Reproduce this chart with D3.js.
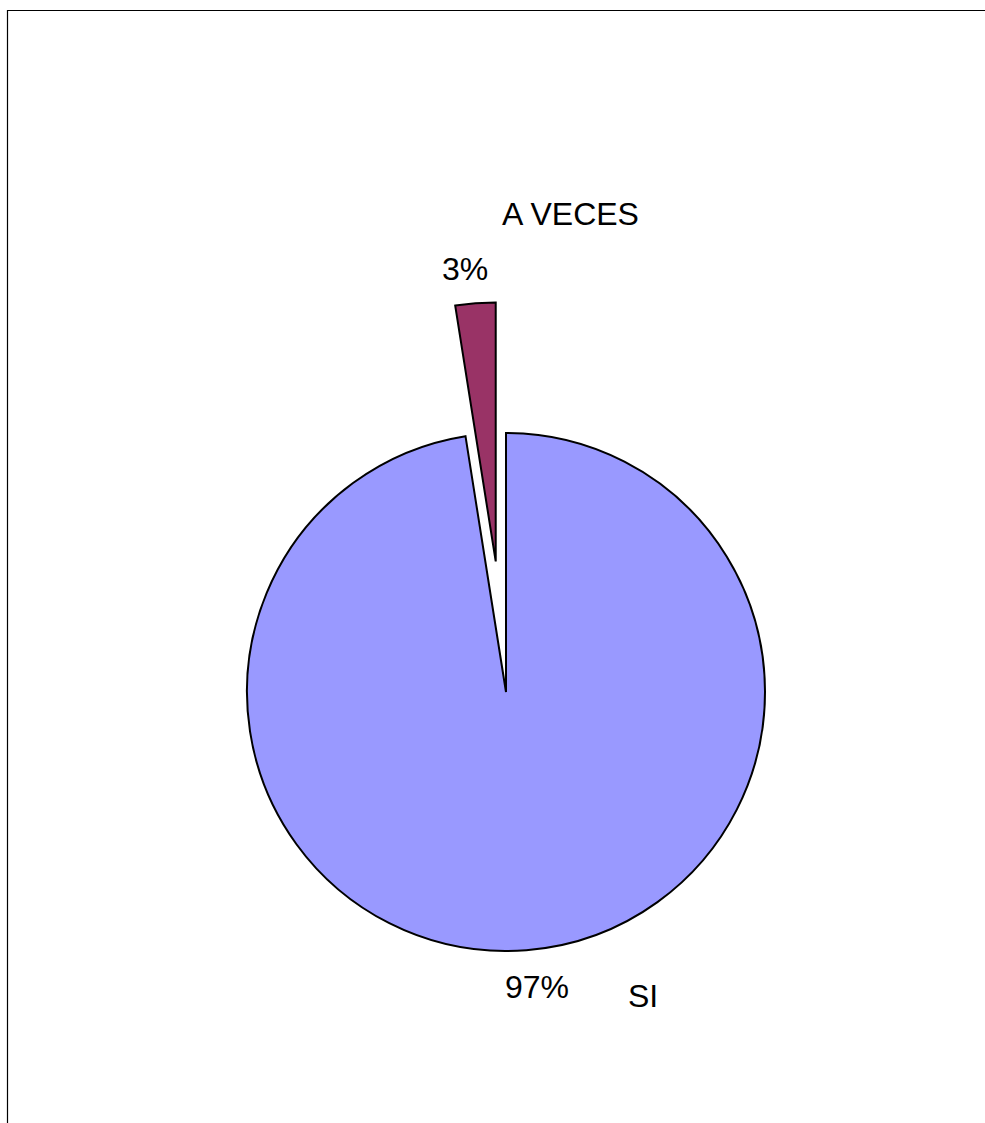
<!DOCTYPE html>
<html><head><meta charset="utf-8">
<script src="https://cdn.jsdelivr.net/npm/d3@7"></script>
<style>body{margin:0;background:#fff}svg{display:block}text{font-family:"Liberation Sans",Arial,sans-serif;font-size:32px;fill:#000}</style>
</head><body>
<script>
const categories = ["SI", "A VECES"];
const values = [97.5, 2.5];
const percentLabels = ["97%", "3%"];
const colors = ["#9999FF", "#993366"];

const W = 985, H = 1123;
const svg = d3.select("body").append("svg").attr("width", W).attr("height", H);
svg.append("path").attr("d", `M7.5,${H+5}V10.5H${W+5}`).attr("fill","none").attr("stroke","#000").attr("stroke-width",1.2);

const cx = 506, cy = 692, r = 259, explode = 131;
const pie = d3.pie().sort(null).value(d => d)(values);
const arc = d3.arc().innerRadius(0).outerRadius(r);
const g = svg.append("g").attr("transform", `translate(${cx},${cy})`);
pie.forEach((p, i) => {
  const mid = (p.startAngle + p.endAngle) / 2;
  const off = i === 1 ? explode : 0;
  g.append("path").attr("d", arc(p))
    .attr("transform", `translate(${Math.sin(mid)*off},${-Math.cos(mid)*off})`)
    .attr("fill", colors[i]).attr("stroke", "#000").attr("stroke-width", 2).attr("stroke-linejoin","miter");
});

const labels = [
  {t: percentLabels[1], x: 442, y: 280},
  {t: categories[1], x: 502, y: 225},
  {t: percentLabels[0], x: 505, y: 998},
  {t: categories[0], x: 628, y: 1007}
];
svg.selectAll("text.l").data(labels).enter().append("text").attr("class","l")
  .attr("x", d => d.x).attr("y", d => d.y).text(d => d.t);
</script>
</body></html>
